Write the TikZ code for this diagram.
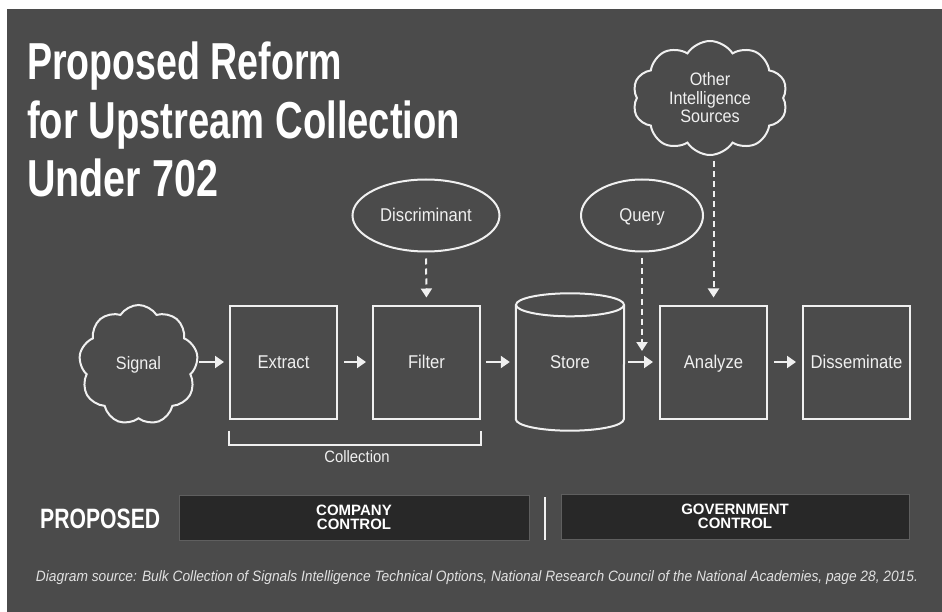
\documentclass[tikz,border=0pt]{standalone}
\usepackage{fontspec}
\setmainfont{Liberation Sans}
\newfontfamily\nodefont[FakeStretch=0.9]{Liberation Sans}
\usetikzlibrary{arrows.meta,shapes.symbols,shapes.geometric}
\definecolor{bgc}{RGB}{75,75,75}
\definecolor{linec}{RGB}{240,240,240}
\definecolor{darkbox}{RGB}{40,40,40}
\definecolor{darkedge}{RGB}{95,95,95}
\definecolor{footc}{RGB}{225,225,225}
\tikzset{
  lbl/.style={text=linec, font=\nodefont\fontsize{18.5}{20}\selectfont, text height=13pt, text depth=0pt},
  stepbox/.style={lbl, draw=linec, line width=2pt, minimum width=107pt, minimum height=113pt, inner sep=0pt},
  oval/.style={lbl, ellipse, draw=linec, line width=2pt, inner sep=0pt},
  puff/.style={cloud, cloud ignores aspect, draw=linec, line width=2pt,
    inner sep=0pt, text=linec, align=center, font=\nodefont\fontsize{18}{18.5}\selectfont},
  flow/.style={draw=linec, line width=2pt, -{Triangle[length=9pt,width=12pt]}},
  dflow/.style={draw=linec, line width=2pt, dash pattern=on 6pt off 4pt, -{Triangle[length=9pt,width=11pt]}},
  ctrl/.style={fill=darkbox, draw=darkedge, line width=0.8pt, minimum height=45pt, inner sep=0pt,
    text=white, align=center, font=\bfseries\fontsize{15}{14.5}\selectfont},
  titletext/.style={anchor=base west, inner sep=0pt, text=white, font=\bfseries\fontsize{52}{52}\selectfont}
}
\begin{document}
\begin{tikzpicture}[x=1pt,y=-1pt]
\fill[white] (0,0) rectangle (942,612);
\fill[bgc] (7,9) rectangle (942,612);
\useasboundingbox (0,0) rectangle (942,612);

% title
\node[titletext] (title1) at (27,80) {\resizebox{315pt}{\height}{Proposed Reform}};
\node[titletext] (title2) at (27,139) {\resizebox{433pt}{\height}{for Upstream Collection}};
\node[titletext] (title3) at (27,197) {\resizebox{191pt}{\height}{Under 702}};

% main nodes
\node[puff, cloud puffs=9, cloud puff arc=115, minimum width=119pt, minimum height=120pt] (signal) at (138.5,365) {Signal};
\node[stepbox] (extract) at (283.5,362) {Extract};
\node[stepbox] (filter) at (426.5,362) {Filter};
\node[lbl, minimum width=108pt, minimum height=114pt, inner sep=0pt] (store) at (570,362) {Store};
\draw[linec, line width=2pt] (store.north) ellipse [x radius=54pt, y radius=11.5pt];
\draw[linec, line width=2pt] (store.north west) -- (store.south west)
   arc[start angle=180, end angle=360, x radius=54pt, y radius=11.5pt] -- (store.north east);
\node[stepbox] (analyze) at (713.5,362) {Analyze};
\node[stepbox] (dissem) at (856.5,362) {Disseminate};

\node[oval, minimum width=147pt, minimum height=72pt] (disc) at (426,215.5) {Discriminant};
\node[oval, minimum width=122pt, minimum height=72pt] (query) at (642,215.5) {Query};
\node[puff, cloud puffs=10, cloud puff arc=115, minimum width=155pt, minimum height=114pt] (other) at (710,98) {Other\\Intelligence\\Sources};

% arrows
\draw[flow, shorten <=2pt, shorten >=5pt] (signal.east |- extract.west) -- (extract.west);
\draw[flow, shorten <=6pt, shorten >=6pt] (extract.east) -- (filter.west);
\draw[flow, shorten <=5pt, shorten >=6pt] (filter.east) -- (store.west);
\draw[flow, shorten <=4pt, shorten >=6pt] (store.east) -- (analyze.west);
\draw[flow, shorten <=6pt, shorten >=6pt] (analyze.east) -- (dissem.west);

\coordinate (qend) at (642,351);
\draw[dflow, shorten <=6pt, shorten >=7pt] (disc.south) -- (filter.north);
\draw[dflow, shorten <=6pt] (query.south) -- (qend);
\draw[dflow, shorten <=5pt, shorten >=7pt] (analyze.north |- other.south) -- (analyze.north);

% collection bracket
\draw[linec, line width=2pt] ([yshift=-11pt]extract.south west) -- ([yshift=-25pt]extract.south west)
   -- ([yshift=-25pt]filter.south east) -- ([yshift=-11pt]filter.south east);
\node[text=linec, inner sep=0pt, font=\nodefont\fontsize{16.5}{18}\selectfont] (coll) at (357,457) {Collection};

% control bar
\node[anchor=base west, inner sep=0pt, text=white, font=\bfseries\fontsize{28}{28}\selectfont] (prop) at (40,528)
   {\resizebox{120pt}{\height}{PROPOSED}};
\node[ctrl, minimum width=350pt] (company) at (354,517.5) {COMPANY\\CONTROL};
\node[ctrl, minimum width=348pt] (govt) at (735,516.5) {GOVERNMENT\\CONTROL};
\draw[linec, line width=2pt] (545,497) -- (545,540);

% footer
\node[anchor=base, inner sep=0pt, text=footc, font=\itshape\fontsize{15}{16}\selectfont] (foot) at (477,581)
  {\resizebox{882pt}{\height}{Diagram source: Bulk Collection of Signals Intelligence Technical Options, National Research Council of the National Academies, page 28, 2015.}};
\end{tikzpicture}
\end{document}
